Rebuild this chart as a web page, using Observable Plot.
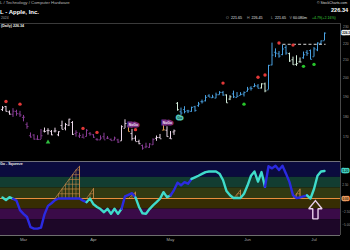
<!DOCTYPE html>
<html><head><meta charset="utf-8">
<script src="https://cdn.jsdelivr.net/npm/d3@7"></script>
<script src="https://cdn.jsdelivr.net/npm/@observablehq/plot@0.6"></script>
<style>
html,body{margin:0;padding:0;background:#000;}
#wrap{position:relative;width:350px;height:250px;overflow:hidden;background:#000;font-family:"Liberation Sans",Arial,sans-serif;}
.panel{position:absolute;left:0;}
.t{position:absolute;white-space:nowrap;line-height:1;}
</style>
</head><body>
<div id="wrap">
  <div id="price" class="panel" style="top:23px"></div>
  <div id="osc" class="panel" style="top:160px"></div>
  <div class="t" style="left:0px;top:1.2px;font-size:4.3px;color:#b8b8b8">L / Technology / Computer Hardware</div>
  <div class="t" style="left:0px;top:8.8px;font-size:6px;font-weight:bold;color:#fff">L - Apple, Inc.</div>
  <div class="t" style="left:1px;top:16.6px;font-size:3.4px;color:#a8a8a8">2024</div>
  <div style="position:absolute;left:0;top:22.5px;width:341px;height:0.8px;background:#3a3a3a"></div>
  <div class="t" style="left:1px;top:25.2px;font-size:3.6px;font-weight:bold;color:#eee">(Daily) 226.34</div>
  <div class="t" style="left:317px;top:1.7px;font-size:3.5px;color:#ddd">© StockCharts.com</div>
  <div class="t" style="left:331px;top:8.2px;font-size:5.6px;font-weight:bold;color:#fff">226.34</div>
  <div class="t" style="left:226px;top:16.7px;font-size:3.6px;color:#9a9a9a">O</div>
  <div class="t" style="left:231px;top:16.7px;font-size:3.6px;color:#e0e0e0">221.65</div>
  <div class="t" style="left:247px;top:16.7px;font-size:3.6px;color:#9a9a9a">H</div>
  <div class="t" style="left:251.5px;top:16.7px;font-size:3.6px;color:#e0e0e0">226.45</div>
  <div class="t" style="left:271px;top:16.7px;font-size:3.6px;color:#9a9a9a">L</div>
  <div class="t" style="left:275px;top:16.7px;font-size:3.6px;color:#e0e0e0">221.65</div>
  <div class="t" style="left:289.5px;top:16.7px;font-size:3.6px;color:#9a9a9a">V</div>
  <div class="t" style="left:293px;top:16.7px;font-size:3.6px;color:#e0e0e0">60.080m</div>
  <div class="t" style="left:312px;top:16.7px;font-size:3.6px;color:#3cd33c">+4.79(+2.16%)</div>
  <div class="t" style="left:0px;top:163.2px;font-size:3.6px;font-weight:bold;color:#eee">Go - Squeeze</div>
</div>
<script>
// ---- data (trading-day index 0 = Feb 22 2024 ... 92 = Jul 5 2024) ----
const opens  = [183.48,185.01,182.24,181.10,182.51,181.27,179.55,176.15,170.76,171.06,169.15,169.00,172.94,173.15,172.77,172.91,171.17,175.57,174.34,175.72,177.05,171.76,170.57,170.00,170.41,171.75,171.19,169.08,168.79,170.29,169.59,169.03,168.70,168.80,168.34,174.26,175.36,171.75,169.61,168.03,166.21,165.52,165.35,166.54,169.53,169.88,173.37,173.33,169.58,172.51,186.65,182.35,183.45,182.85,182.56,184.90,185.44,187.51,187.91,190.47,189.51,189.33,191.09,192.27,190.98,188.82,191.51,189.61,190.76,191.44,192.90,194.64,195.40,195.69,194.65,196.90,193.65,207.37,214.74,213.85,213.37,217.59,213.93,210.39,207.72,209.15,211.50,214.69,215.77,212.09,216.15,220.00,221.65];
const highs  = [184.96,185.04,182.76,183.92,183.12,182.57,180.53,176.90,172.04,171.24,170.73,173.70,174.38,174.03,173.19,174.31,172.62,177.71,176.61,178.67,177.49,173.05,171.94,171.42,173.60,172.23,171.25,169.34,170.68,171.92,170.39,169.20,170.08,169.09,175.46,178.36,176.63,173.76,170.65,168.64,166.40,167.26,167.05,169.30,170.61,171.34,176.03,174.99,172.71,173.42,187.00,184.20,184.90,183.07,184.66,185.09,187.10,188.30,190.65,191.10,190.81,191.92,192.73,192.82,191.00,190.58,193.00,192.25,192.18,192.57,194.99,195.32,196.90,196.50,196.94,197.30,207.16,220.20,216.75,215.17,218.95,218.63,214.24,211.89,212.70,211.38,214.86,215.74,216.07,217.51,220.38,221.55,226.45];
const lows   = [182.46,182.23,180.65,179.56,180.13,179.53,177.38,173.79,169.62,168.68,168.49,168.94,172.05,171.01,170.76,172.05,170.29,173.52,173.03,175.09,170.84,170.06,169.45,169.58,170.11,170.51,169.48,168.23,168.58,168.82,168.95,168.24,168.35,167.11,168.16,174.21,172.50,168.27,168.00,166.55,164.08,164.77,164.92,166.21,168.15,169.18,173.10,170.00,169.11,170.89,182.66,180.42,181.32,181.45,182.11,182.13,184.62,186.29,187.37,189.66,189.18,189.01,190.92,190.27,186.63,188.04,189.10,189.51,190.63,189.91,192.52,193.03,194.87,194.17,194.14,192.15,193.63,206.90,211.60,211.30,212.72,213.00,208.85,207.11,206.59,208.61,210.64,212.35,210.30,211.92,215.10,219.03,221.65];
const closes = [184.37,182.52,181.16,182.63,181.42,180.75,179.66,175.10,170.12,169.12,169.00,170.73,172.75,173.23,171.13,173.00,172.62,173.72,176.08,178.67,171.37,172.28,170.85,169.71,173.31,171.48,170.03,168.84,169.65,168.82,169.58,168.45,169.67,167.78,175.04,176.55,172.69,169.38,168.00,167.04,165.00,165.84,166.90,169.02,169.89,169.30,173.50,170.33,169.30,173.03,183.38,181.71,182.40,182.74,184.57,183.05,186.28,187.43,189.72,189.84,189.87,191.04,192.35,190.90,186.88,189.98,189.99,190.29,191.29,192.25,194.03,194.35,195.87,194.48,196.89,193.12,207.15,213.07,214.24,212.49,216.67,214.29,209.68,207.49,208.14,209.07,213.25,214.10,210.62,216.75,220.27,221.55,226.34];
// trend colour of each bar, as runs read left to right: [code, number of bars]
const trendRuns = [["w",3],["n",9],["w",9],["n",13],["w",2],["a",1],["w",3],["n",4],["w",2],["a",1],["w",3],["l",1],["g",13],["l",2],["g",8],["l",2],["g",6],["l",4],["g",7]];
const monthStarts = [6, 26, 48, 70, 89];
const monthLabels = ["Mar", "Apr", "May", "Jun", "Jul"];
const priceTicks = [170, 180, 190, 200, 210, 220, 230];
const redDots = [{i:1,p:187.6},{i:5,p:186.2},{i:23,p:174.2},{i:27,p:172.3},{i:38,p:173.6},{i:63,p:197.3},{i:73,p:200.5},{i:75,p:201.7},{i:79,p:220.3},{i:83,p:219.0}];
const greenDots = [{i:69,p:186.2},{i:86,p:206.6},{i:89,p:207.7}];
const greenTriangles = [{i:13,p:167.7}];
const trendLabels = [{i:37.4,p:176.1,text:"NoGo",kind:"nogo"},{i:47.1,p:177.0,text:"NoGo",kind:"nogo"},{i:50.6,p:179.5,text:"Go",kind:"go"}];
const resistance = [{from:80, to:92.3, level:219.5}];
// oscillator
const osc = [0.2,-0.3,0.25,-0.05,-0.4,-2.2,-2.9,-3.5,-5.4,-5.7,-5.7,-5.5,-3.0,-1.4,-0.9,-0.3,0,0,0,0,0,0,0,-0.4,-0.7,0,-1.1,-1.6,-2.0,-2.6,-1.95,-2.9,-1.95,-2.9,-1.95,0.4,0.7,1.0,0.2,-1.6,-2.8,-2.9,-2.0,-1.3,-0.7,-0.05,1.2,0.25,0.57,1.6,3.0,2.5,3.1,2.8,3.7,4.0,4.3,4.65,5.0,5.1,5.1,5.1,4.7,3.5,1.4,0.6,0.1,0.1,0.1,0.9,2.45,4.3,5.1,3.2,5.0,2.2,6.1,5.7,6.2,5.4,6.2,4.7,3.1,0.6,0.1,0.2,0.4,0.6,0.0,1.8,4.3,5.1,5.2];
const oscToneRuns = [["c",4],["b",21],["c",10],["b",4],["c",10],["b",6],["c",21],["b",12],["c",5]];
const oscBands = [
  {lo:4, hi:7, color:"#0b0b3e"},
  {lo:2, hi:4, color:"#123d31"},
  {lo:0, hi:2, color:"#323a12"},
  {lo:-2, hi:0, color:"#372d03"},
  {lo:-4, hi:-2, color:"#3a0b48"},
  {lo:-7, hi:-4, color:"#1d0728"}
];
const oscTicks = [2.5, -2.5, -5];
const squeezes = [
  {start:16, heights:[0.9,1.8,2.7,3.6,4.5,5.4,6.1]},
  {start:25, heights:[0.9,1.9]},
  {start:37, heights:[0.6,1.2]},
  {start:67, heights:[0.8,1.6]},
  {start:84, heights:[0.9,1.8]}
];
const sqStep = 0.9;
const arrowNote = {i:89.4, tip:-0.4, neck:-1.95, base:-3.85, head:1.9, shaft:0.75};

// ---- build ----
const expand = runs => runs.flatMap(([c, n]) => Array(n).fill(c));
const trend = expand(trendRuns);
const oscTone = expand(oscToneRuns);
const bars = closes.map((c, i) => ({i, o: opens[i], h: highs[i], l: lows[i], c, t: trend[i]}));
const trendColor = {w:"#eedbec", n:"#8a3e98", a:"#e09a50", l:"#d4eedc", g:"#4aa2e2"};
const toneColor = {c:"#3fdccb", b:"#2b2ae2"};
const xDomain = [-0.57, 96.57];
const font = "Liberation Sans, Arial, sans-serif";
const last = closes[closes.length - 1];

const pricePlot = Plot.plot({
  width: 350, height: 137, marginTop: 0, marginBottom: 0, marginLeft: 0, marginRight: 10,
  style: {background: "transparent", color: "#9a9a9a", fontFamily: font, overflow: "visible"},
  x: {domain: xDomain, axis: null},
  y: {type: "log", domain: [159.5, 232.4], axis: null},
  marks: [
    Plot.ruleX([xDomain[1]], {stroke: "#5a5a5a", strokeWidth: 0.8}),
    Plot.ruleX(bars, {x: "i", y1: "l", y2: "h", stroke: d => trendColor[d.t], strokeWidth: 1}),
    Plot.link(bars, {x1: d => d.i - 0.45, x2: "i", y1: "o", y2: "o", stroke: d => trendColor[d.t], strokeWidth: 0.8}),
    Plot.link(bars, {x1: "i", x2: d => d.i + 0.45, y1: "c", y2: "c", stroke: d => trendColor[d.t], strokeWidth: 0.8}),
    Plot.link(resistance, {x1: "from", x2: "to", y1: "level", y2: "level", stroke: "#d8d8d8", strokeWidth: 1, strokeDasharray: "3,2.2"}),
    Plot.dot(redDots, {x: "i", y: "p", r: 1.7, fill: "#e23838"}),
    Plot.dot(greenDots, {x: "i", y: "p", r: 1.7, fill: "#27c42a"}),
    Plot.dot(greenTriangles, {x: "i", y: "p", r: 1.7, symbol: "triangle", fill: "#2fbf3f"}),
    Plot.text(trendLabels, {x: "i", y: "p", text: "text", fontSize: 3.4, fontWeight: "bold",
      fill: d => d.kind === "go" ? "#0c3c38" : "#f6e6f6",
      stroke: d => d.kind === "go" ? "#56c8b6" : "#7a2f84",
      strokeWidth: 3.2, strokeLinejoin: "miter", paintOrder: "stroke"}),
    Plot.text(priceTicks, {y: d => d, frameAnchor: "right", textAnchor: "start", dx: 2.5, text: d => String(d), fontSize: 3.4, fill: "#9a9a9a"}),
    Plot.text([last], {y: d => d, frameAnchor: "right", textAnchor: "start", dx: 1.8, text: d => d.toFixed(1), fontSize: 3.1, fontWeight: "bold",
      fill: "#111", stroke: "#f0f0f0", strokeWidth: 2.4, strokeLinejoin: "round", paintOrder: "stroke"})
  ]
});
document.getElementById("price").append(pricePlot);

// oscillator segments split where tone changes
const oscPts = osc.map((v, i) => ({i, v, tone: oscTone[i]}));
const oscSegs = [];
let seg = 0;
oscPts.forEach((p, k) => {
  if (k > 0 && p.tone !== oscPts[k - 1].tone) { seg++; oscSegs.push({...oscPts[k - 1], seg, tone: p.tone}); }
  oscSegs.push({...p, seg});
});

// squeeze grids
const sqEnv = [], sqVert = [], sqHor = [];
squeezes.forEach((s, n) => {
  const end = s.start + s.heights.length - 1;
  const pts = [{i: s.start - 1, v: 0, n}];
  s.heights.forEach((h, k) => { pts.push({i: s.start + k, v: h, n}); sqVert.push({i: s.start + k, h}); });
  pts.push({i: end, v: 0, n});
  sqEnv.push(...pts);
  const maxH = d3.max(s.heights);
  for (let L = sqStep; L < maxH - 0.05; L += sqStep) {
    for (let k = 1; k < pts.length - 1; k++) {
      const a = pts[k - 1], b = pts[k];
      if (b.v >= L) { sqHor.push({x1: a.i + (L - a.v) / (b.v - a.v) * (b.i - a.i), x2: end, y: L}); break; }
    }
  }
});
const a = arrowNote;
const arrowPoly = [
  [a.i, a.tip], [a.i + a.head, a.neck], [a.i + a.shaft, a.neck], [a.i + a.shaft, a.base],
  [a.i - a.shaft, a.base], [a.i - a.shaft, a.neck], [a.i - a.head, a.neck], [a.i, a.tip]
];
const sqColor = "#c98a4a";
const lastOsc = osc[osc.length - 1];

const oscPlot = Plot.plot({
  width: 350, height: 90, marginTop: 1, marginBottom: 15, marginLeft: 0, marginRight: 10,
  style: {background: "transparent", color: "#9a9a9a", fontFamily: font, overflow: "visible"},
  x: {domain: xDomain, axis: null},
  y: {domain: [-7, 7], axis: null},
  marks: [
    Plot.rect(oscBands, {x1: () => xDomain[0], x2: () => xDomain[1], y1: "lo", y2: "hi", fill: "color"}),
    Plot.ruleY([0], {stroke: "#e88d3e", strokeWidth: 1}),
    Plot.ruleX(sqVert, {x: "i", y1: () => 0, y2: "h", stroke: sqColor, strokeWidth: 0.6}),
    Plot.link(sqHor, {x1: "x1", x2: "x2", y1: "y", y2: "y", stroke: sqColor, strokeWidth: 0.6}),
    Plot.line(sqEnv, {x: "i", y: "v", z: "n", stroke: sqColor, strokeWidth: 0.7}),
    Plot.line(oscSegs, {x: "i", y: "v", z: "seg", stroke: d => toneColor[d.tone], strokeWidth: 2.4, strokeLinejoin: "round", strokeLinecap: "round"}),
    Plot.line(arrowPoly, {x: d => d[0], y: d => d[1], stroke: "#ead0ec", strokeWidth: 1.4, strokeLinejoin: "miter"}),
    Plot.ruleY([7, -7], {stroke: "#8a8a8a", strokeWidth: 0.8}),
    Plot.ruleX([xDomain[1]], {stroke: "#5a5a5a", strokeWidth: 0.8}),
    Plot.text(oscTicks, {y: d => d, frameAnchor: "right", textAnchor: "start", dx: 1.8, text: d => d3.format(".2f")(d), fontSize: 3.1, fill: "#9a9a9a"}),
    Plot.text([0], {y: d => d, frameAnchor: "right", textAnchor: "start", dx: 2, text: d => d.toFixed(2), fontSize: 3.1, fontWeight: "bold",
      fill: "#3a1c00", stroke: "#eb9b62", strokeWidth: 2.6, paintOrder: "stroke"}),
    Plot.text([lastOsc], {y: d => d, frameAnchor: "right", textAnchor: "start", dx: 2, text: d => d.toFixed(2), fontSize: 3.1, fontWeight: "bold",
      fill: "#053a34", stroke: "#44d2c2", strokeWidth: 2.6, paintOrder: "stroke"}),
    Plot.text(monthStarts, {x: d => d, frameAnchor: "bottom", dy: 5.5, text: (d, k) => monthLabels[k], fontSize: 4.2, fill: "#a8a8a8"})
  ]
});
document.getElementById("osc").append(oscPlot);
</script>
</body></html>
